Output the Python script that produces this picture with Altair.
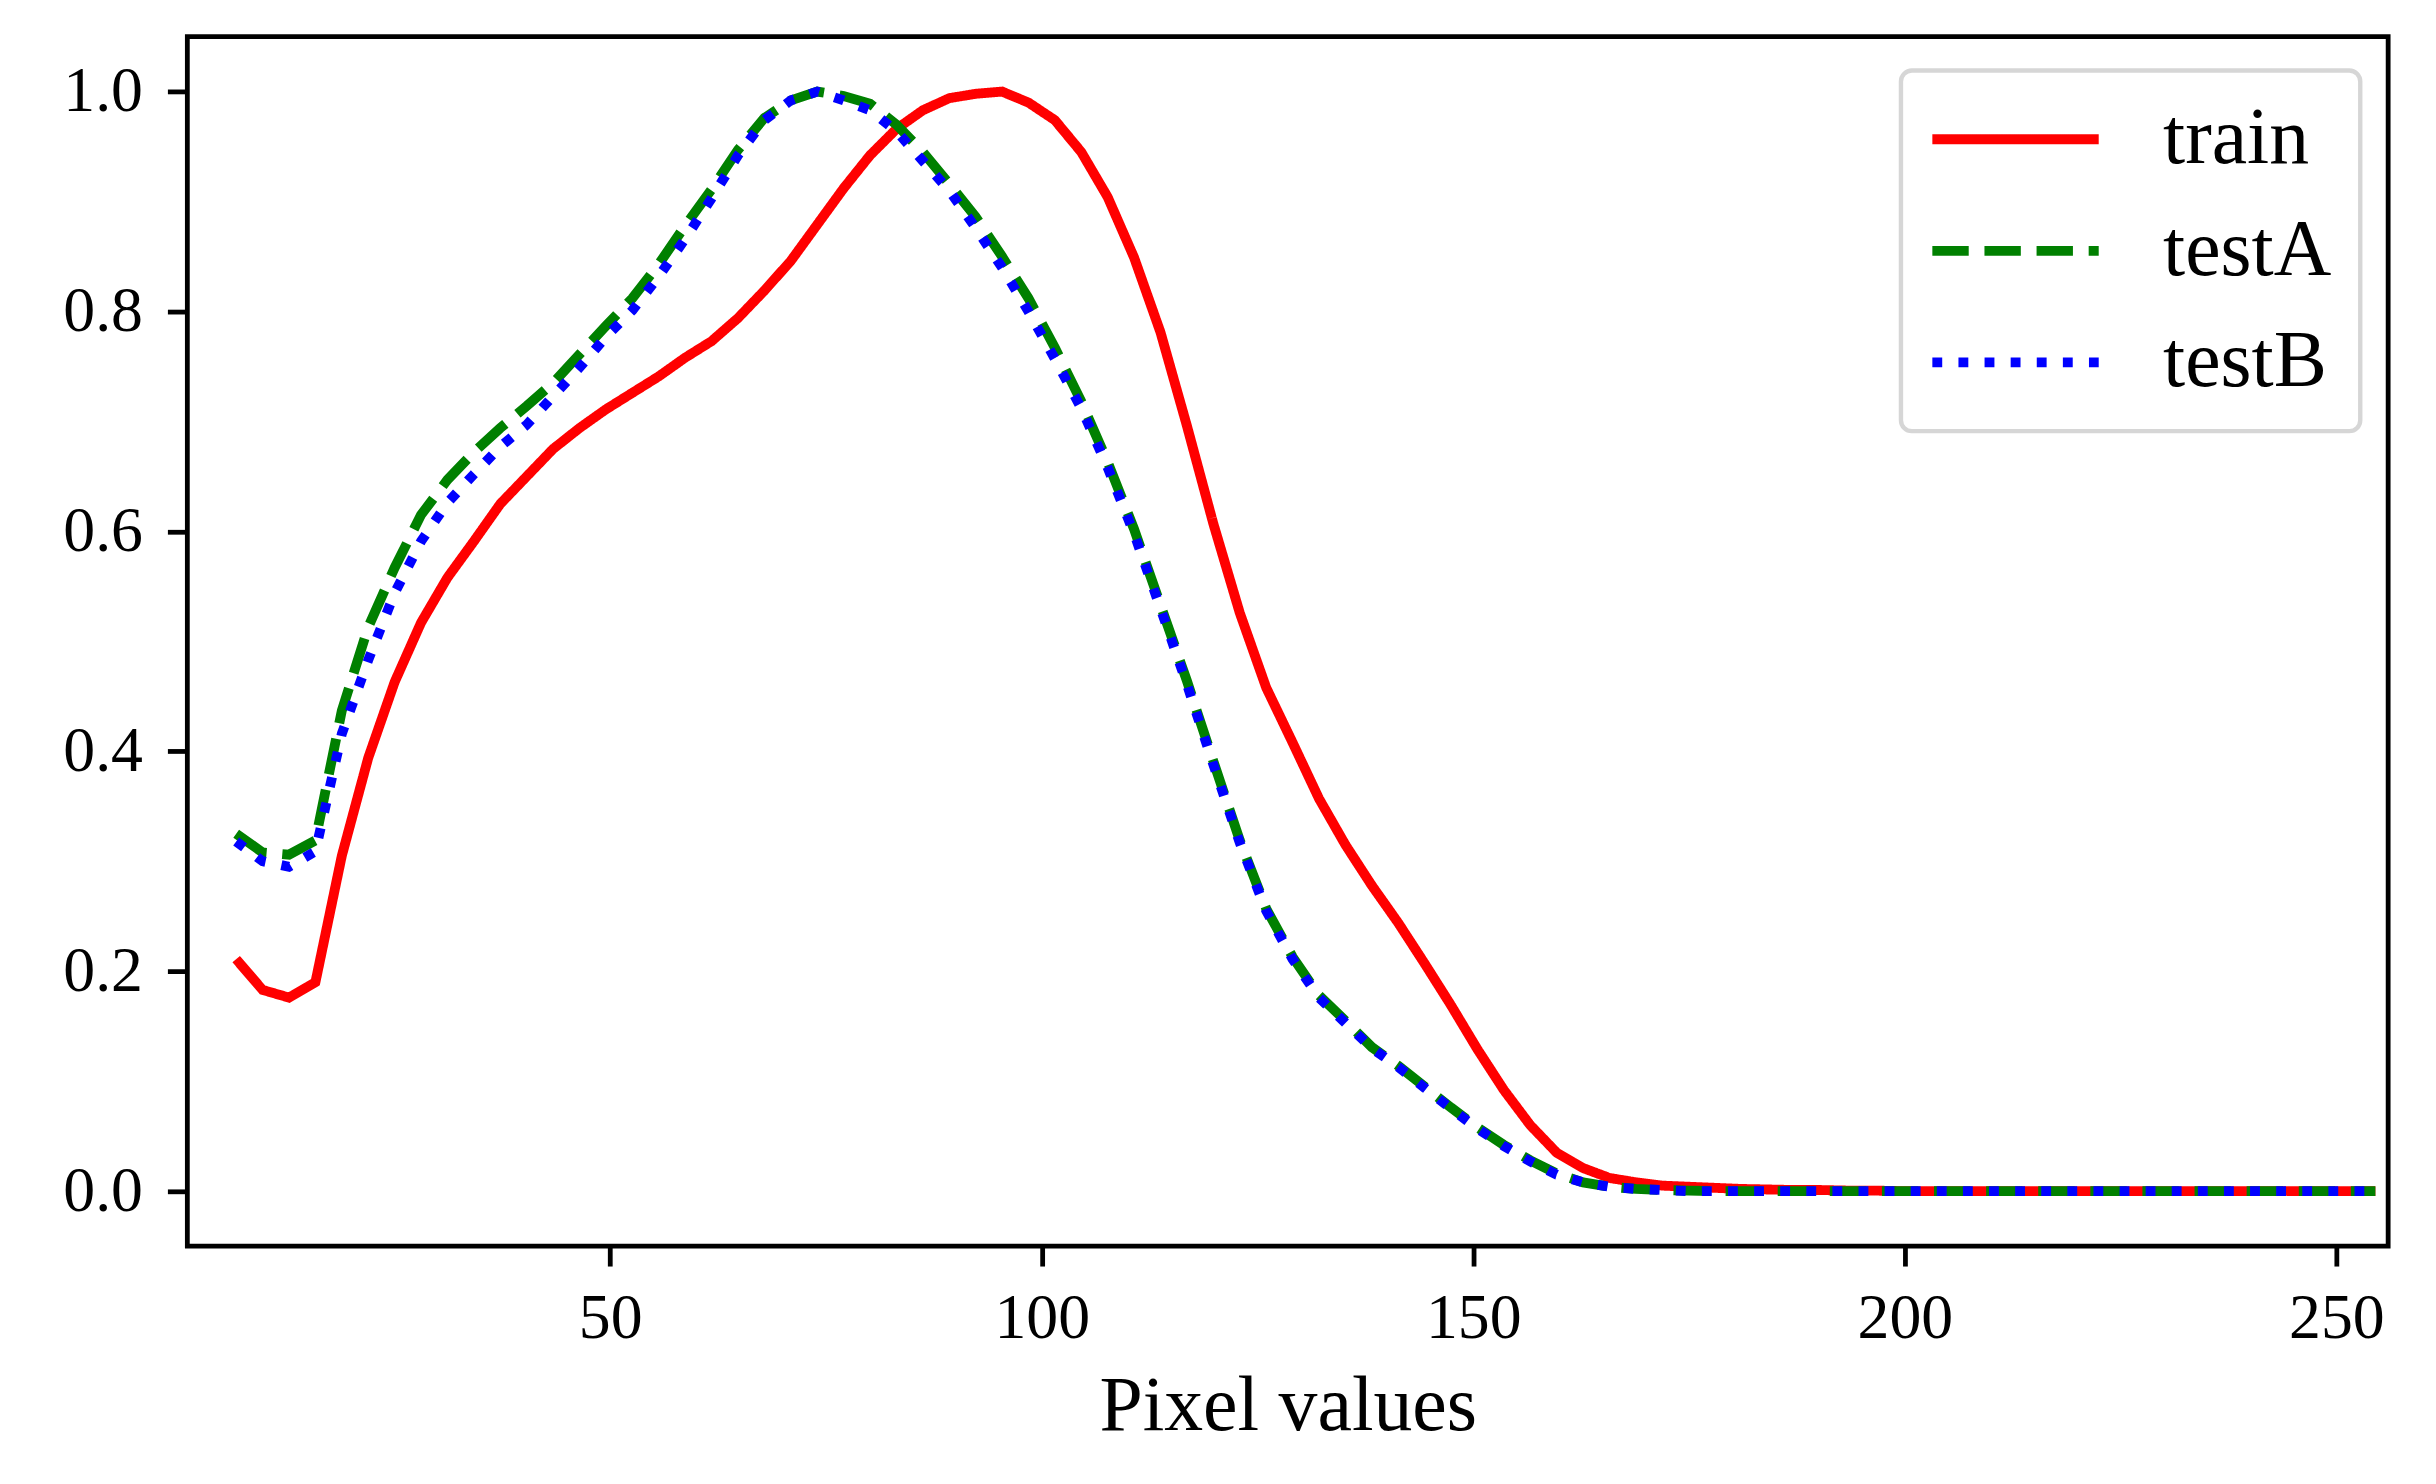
import altair as alt
import pandas as pd

# ---- data ----
pixel_values = [6.66, 9.72, 12.78, 15.84, 18.90, 21.96, 25.02, 28.08, 31.14, 34.20,
                37.26, 40.32, 43.38, 46.44, 49.50, 52.56, 55.62, 58.68, 61.74, 64.80,
                67.86, 70.92, 73.98, 77.04, 80.10, 83.16, 86.22, 89.28, 92.34, 95.40,
                98.46, 101.52, 104.58, 107.64, 110.70, 113.76, 116.82, 119.88, 122.94, 126.00,
                129.06, 132.12, 135.18, 138.24, 141.30, 144.36, 147.42, 150.48, 153.54, 156.60,
                159.66, 162.72, 165.78, 168.84, 171.90, 174.96, 178.02, 181.08, 184.14, 187.20,
                190.26, 193.32, 196.38, 199.44, 202.50, 205.56, 208.62, 211.68, 214.74, 217.80,
                220.86, 223.92, 226.98, 230.04, 233.10, 236.16, 239.22, 242.28, 245.34, 248.40,
                251.46, 254.52]

train = [0.211, 0.183, 0.176, 0.190, 0.305, 0.394, 0.463, 0.517, 0.558, 0.591,
         0.625, 0.650, 0.675, 0.694, 0.711, 0.726, 0.741, 0.758, 0.773, 0.794,
         0.819, 0.846, 0.879, 0.912, 0.942, 0.966, 0.983, 0.994, 0.998, 1.000,
         0.990, 0.974, 0.945, 0.904, 0.849, 0.781, 0.696, 0.607, 0.526, 0.458,
         0.408, 0.357, 0.315, 0.278, 0.244, 0.207, 0.169, 0.129, 0.092, 0.060,
         0.035, 0.021, 0.012, 0.008, 0.005, 0.004, 0.003, 0.002, 0.0015, 0.001,
         0.001, 0.0005, 0.0005, 0.0, 0.0, 0.0, 0.0, 0.0, 0.0, 0.0,
         0.0, 0.0, 0.0, 0.0, 0.0, 0.0, 0.0, 0.0, 0.0, 0.0,
         0.0, 0.0]

testA = [0.325, 0.308, 0.306, 0.319, 0.437, 0.513, 0.567, 0.615, 0.647, 0.672,
         0.694, 0.714, 0.735, 0.761, 0.787, 0.812, 0.843, 0.878, 0.911, 0.947,
         0.976, 0.992, 1.000, 0.996, 0.989, 0.970, 0.945, 0.916, 0.886, 0.850,
         0.812, 0.767, 0.718, 0.663, 0.602, 0.533, 0.464, 0.391, 0.319, 0.257,
         0.213, 0.178, 0.155, 0.131, 0.114, 0.095, 0.076, 0.058, 0.042, 0.028,
         0.016, 0.008, 0.004, 0.002, 0.001, 0.0005, 0.0, 0.0, 0.0, 0.0,
         0.0, 0.0, 0.0, 0.0, 0.0, 0.0, 0.0, 0.0, 0.0, 0.0,
         0.0, 0.0, 0.0, 0.0, 0.0, 0.0, 0.0, 0.0, 0.0, 0.0,
         0.0, 0.0]

testB = [0.318, 0.300, 0.295, 0.309, 0.416, 0.483, 0.544, 0.591, 0.626, 0.652,
         0.677, 0.697, 0.723, 0.749, 0.777, 0.801, 0.832, 0.866, 0.903, 0.942,
         0.974, 0.992, 1.000, 0.992, 0.983, 0.964, 0.937, 0.910, 0.876, 0.840,
         0.800, 0.757, 0.712, 0.658, 0.598, 0.530, 0.461, 0.388, 0.317, 0.255,
         0.211, 0.176, 0.153, 0.130, 0.113, 0.094, 0.075, 0.057, 0.041, 0.027,
         0.015, 0.008, 0.004, 0.002, 0.001, 0.0, 0.0, 0.0, 0.0, 0.0,
         0.0, 0.0, 0.0, 0.0, 0.0, 0.0, 0.0, 0.0, 0.0, 0.0,
         0.0, 0.0, 0.0, 0.0, 0.0, 0.0, 0.0, 0.0, 0.0, 0.0,
         0.0, 0.0]

series_names = ["train", "testA", "testB"]
series_colors = ["#ff0000", "#008000", "#0000ff"]
series_dashes = [[1, 0], [36.5, 15.8], [9.9, 16.3]]
x_ticks = [50, 100, 150, 200, 250]
y_ticks = [0.0, 0.2, 0.4, 0.6, 0.8, 1.0]
x_title = "Pixel values"

rows = []
for name, vals in zip(series_names, [train, testA, testB]):
    for xv, yv in zip(pixel_values, vals):
        rows.append({"pixel": xv, "value": yv, "series": name})
df = pd.DataFrame(rows)

FONT = "Liberation Serif"
LW = 9.9

legend = alt.Legend(
    orient="none", legendX=1720, legendY=34, title=None,
    symbolType="M-2.53,0H2.53", symbolSize=4356, symbolOffset=46,
    symbolStrokeWidth=LW, labelOffset=108,
    labelFont=FONT, labelFontSize=80, labelColor="black", labelLimit=1000,
    rowPadding=32, padding=29,
    strokeColor="#d6d6d6", fillColor="rgba(255,255,255,0.8)", cornerRadius=11,
)

chart = alt.Chart(df).mark_line(strokeWidth=LW, clip=True).encode(
    x=alt.X("pixel:Q",
            scale=alt.Scale(domain=[1, 256], nice=False, zero=False),
            axis=alt.Axis(title=x_title, values=x_ticks, labelFlush=False,
                          labelPadding=21, titleBaseline="alphabetic", titleY=184)),
    y=alt.Y("value:Q",
            scale=alt.Scale(domain=[-0.05, 1.05], nice=False, zero=False),
            axis=alt.Axis(title=None, values=y_ticks, format=".1f", labelPadding=25)),
    color=alt.Color("series:N",
                    scale=alt.Scale(domain=series_names, range=series_colors),
                    legend=legend),
    strokeDash=alt.StrokeDash("series:N",
                              scale=alt.Scale(domain=series_names, range=series_dashes),
                              legend=legend),
).properties(
    width=2209, height=1214,
    autosize=alt.AutoSizeParams(type="none"),
    padding={"left": 180, "top": 26, "right": 40, "bottom": 220},
    background="white",
).configure_view(
    stroke="black", strokeWidth=4.8
).configure_axis(
    domain=False, grid=False,
    tickColor="black", tickWidth=4.8, tickSize=20,
    labelFont=FONT, labelFontSize=64, labelColor="black",
    titleFont=FONT, titleFontSize=78, titleFontWeight="normal", titleColor="black",
).configure_legend(
    strokeWidth=4.4
)

chart.save("out.html", embed_options={"renderer": "svg", "actions": False})
